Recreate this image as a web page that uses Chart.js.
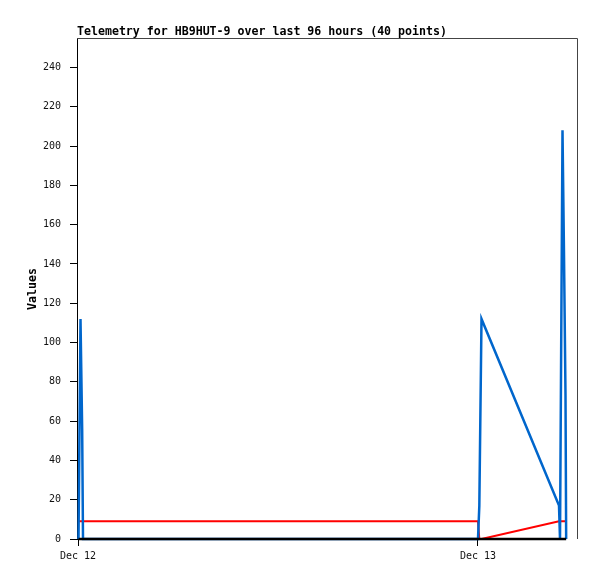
<!DOCTYPE html>
<html>
<head>
<meta charset="utf-8">
<script src="https://cdn.jsdelivr.net/npm/chart.js@4.4.1/dist/chart.umd.min.js"></script>
<style>
  html, body { margin: 0; padding: 0; background: #fff; }
  canvas { display: block; }
</style>
</head>
<body>
<canvas id="chart" width="597" height="579"></canvas>
<script>
// hours since Dec 12 00:00
const HOURS = [0.03, 0.15, 0.25, 0.3, 24.0, 24.08, 24.21, 28.86, 28.92, 29.07, 29.16, 29.25, 29.29];
const BLUE  = [0, 112, 56, 0, 0, 17, 112, 17, 0, 208, 145, 73, 0];
const RED   = [9, 9, 9, 9, 9, 0, 0, 9, 9, 9, 9, 9, 9];
const BLACK = [0, 0, 0, 0, 0, 0, 0, 0, 0, 0, 0, 0, 0];

const X_TICK_HOURS = [0, 24];
const X_TICK_LABELS = ['Dec 12', 'Dec 13'];
const Y_TICKS = [0, 20, 40, 60, 80, 100, 120, 140, 160, 180, 200, 220, 240];

const TITLE = 'Telemetry for HB9HUT-9 over last 96 hours (40 points)';
const Y_TITLE = 'Values';

const MONO = '"DejaVu Sans Mono", "Liberation Mono", monospace';

const pts = vals => vals.map((v, i) => ({ x: HOURS[i], y: v }));

// title, axis title and the grey frame on top/right
const decor = {
    id: 'decor',
    afterDraw(chart) {
        const { ctx, chartArea: a } = chart;
        ctx.save();
        ctx.strokeStyle = '#444';
        ctx.lineWidth = 1;
        ctx.beginPath();
        ctx.moveTo(a.left, a.top + 0.5);
        ctx.lineTo(a.right + 0.5, a.top + 0.5);
        ctx.lineTo(a.right + 0.5, a.bottom);
        ctx.stroke();

        ctx.fillStyle = '#000';
        ctx.font = 'bold 11.6px ' + MONO;
        ctx.textAlign = 'left';
        ctx.textBaseline = 'alphabetic';
        ctx.fillText(TITLE, a.left, 35);

        ctx.translate(36, 289);
        ctx.rotate(-Math.PI / 2);
        ctx.textAlign = 'center';
        ctx.fillText(Y_TITLE, 0, 0);
        ctx.restore();
    }
};

const line = (data, color, width) => ({
    data: pts(data),
    borderColor: color,
    borderWidth: width,
    pointRadius: 0,
    tension: 0,
    fill: false,
    clip: false,
});

new Chart(document.getElementById('chart'), {
    type: 'line',
    data: {
        datasets: [
            line(BLACK, '#000000', 2.5),
            line(BLUE, '#0066cc', 2.5),
            line(RED, '#ff0000', 2),
        ]
    },
    options: {
        responsive: false,
        devicePixelRatio: 1,
        animation: false,
        layout: { padding: { top: 38, right: 20, left: 0, bottom: 0 } },
        plugins: {
            legend: { display: false },
            tooltip: { enabled: false },
        },
        scales: {
            x: {
                type: 'linear',
                min: -0.06,
                max: 29.94,
                afterFit: s => { s.height = 40; },
                afterBuildTicks: s => { s.ticks = X_TICK_HOURS.map(v => ({ value: v })); },
                grid: { drawOnChartArea: false, tickLength: 7, color: '#000' },
                border: { display: false },
                ticks: {
                    padding: 4,
                    maxRotation: 0,
                    autoSkip: false,
                    color: '#111',
                    font: { family: MONO, size: 10 },
                    callback: v => X_TICK_LABELS[X_TICK_HOURS.indexOf(v)] ?? '',
                }
            },
            y: {
                min: 0,
                max: 255,
                afterFit: s => { s.width = 77; },
                afterBuildTicks: s => { s.ticks = Y_TICKS.map(v => ({ value: v })); },
                grid: { drawOnChartArea: false, tickLength: 7, color: '#000' },
                border: { display: true, color: '#000', width: 1 },
                ticks: {
                    padding: 9,
                    color: '#111',
                    font: { family: MONO, size: 10 },
                }
            }
        }
    },
    plugins: [decor]
});
</script>
</body>
</html>
